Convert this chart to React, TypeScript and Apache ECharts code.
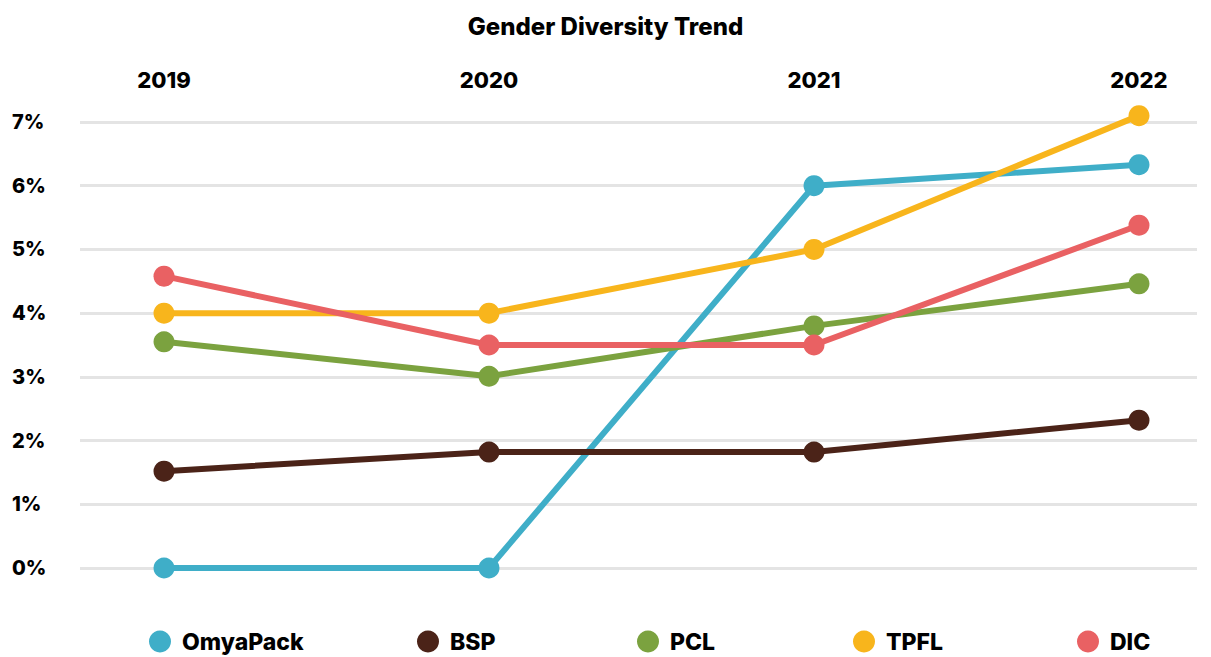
import React, { useEffect, useRef } from "react";
import * as echarts from "echarts";

const years = ["2019", "2020", "2021", "2022"];
const yTicks = [0, 1, 2, 3, 4, 5, 6, 7];

const omyaPack = [0, 0, 6.0, 6.33];
const bsp = [1.52, 1.82, 1.82, 2.32];
const pcl = [3.55, 3.01, 3.8, 4.46];
const tpfl = [4.0, 4.0, 5.0, 7.1];
const dic = [4.58, 3.5, 3.5, 5.38];

const seriesNames = ["OmyaPack", "BSP", "PCL", "TPFL", "DIC"];
const seriesValues = [omyaPack, bsp, pcl, tpfl, dic];
const colors = ["#3FAEC8", "#4B2318", "#7BA23F", "#F8B51C", "#E96163"];
const legendLefts = [144, 412, 632, 848, 1072];

const FONT = "Inter, 'Noto Sans', sans-serif";

export default function App() {
  const ref = useRef<HTMLDivElement>(null);
  useEffect(() => {
    if (!ref.current) return;
    const chart = echarts.init(ref.current, undefined, { renderer: "svg" });
    const option: any = {
      animation: false,
      backgroundColor: "#ffffff",
      title: {
        text: "Gender Diversity Trend",
        left: "center",
        top: 9,
        textStyle: { fontFamily: FONT, fontWeight: 800, fontSize: 24, color: "#000" },
      },
      legend: seriesNames.map((n, i) => ({
        data: [n],
        left: legendLefts[i],
        top: 625,
        icon: "circle",
        itemWidth: 22,
        itemHeight: 22,
        textStyle: {
          fontFamily: FONT,
          fontWeight: 800,
          fontSize: 23,
          color: "#000",
          padding: [0, 0, 0, 6],
        },
        selectedMode: false,
      })),
      grid: [
        { left: 80, right: 14, top: 122, bottom: 89 },
        { left: 164, right: 72, top: 122, bottom: 89 },
      ],
      xAxis: [
        {
          gridIndex: 0,
          type: "category",
          data: years,
          show: false,
        },
        {
          gridIndex: 1,
          type: "category",
          data: years,
          position: "top",
          boundaryGap: false,
          axisLine: { show: false },
          axisTick: { show: false },
          splitLine: { show: false },
          axisLabel: {
            margin: 31,
            fontFamily: FONT,
            fontWeight: 800,
            fontSize: 22,
            color: "#000",
          },
        },
      ],
      yAxis: [
        {
          gridIndex: 0,
          type: "value",
          min: yTicks[0],
          max: yTicks[yTicks.length - 1],
          interval: 1,
          axisLine: { show: false },
          axisTick: { show: false },
          splitLine: { lineStyle: { color: "#E4E4E4", width: 3 } },
          axisLabel: {
            formatter: (v: number) => `${v}%`,
            align: "left",
            margin: 68,
            fontFamily: FONT,
            fontWeight: 800,
            fontSize: 20,
            color: "#000",
          },
        },
        {
          gridIndex: 1,
          type: "value",
          min: yTicks[0],
          max: yTicks[yTicks.length - 1],
          interval: 1,
          show: false,
        },
      ],
      series: seriesNames.map((n, i) => ({
        name: n,
        type: "line",
        xAxisIndex: 1,
        yAxisIndex: 1,
        data: seriesValues[i],
        clip: false,
        symbol: "circle",
        symbolSize: 21,
        showSymbol: true,
        lineStyle: { color: colors[i], width: 6 },
        itemStyle: { color: colors[i] },
        color: colors[i],
      })),
    };
    chart.setOption(option);
    return () => chart.dispose();
  }, []);
  return (
    <div
      ref={ref}
      style={{ position: "fixed", left: 0, top: 0, width: 1211, height: 657 }}
    />
  );
}
